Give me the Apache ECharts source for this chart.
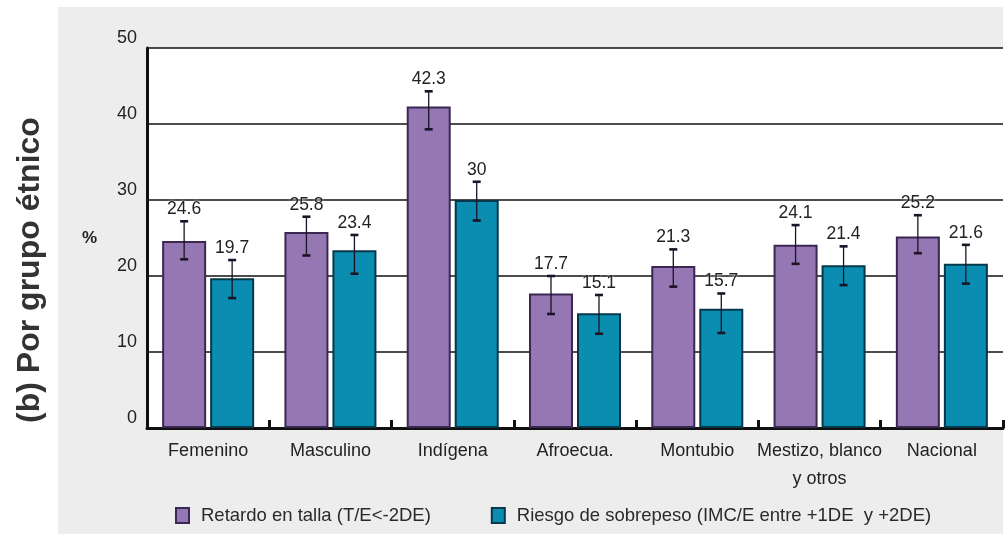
<!DOCTYPE html>
<html>
<head>
<meta charset="utf-8">
<script src="https://cdn.jsdelivr.net/npm/echarts@6/dist/echarts.min.js"></script>
<style>
  html, body { margin: 0; padding: 0; background: #fff; }
  #chart { width: 1005px; height: 534px; }
</style>
</head>
<body>
<div id="chart"></div>
<script>
// categorias y datos (%)
const categorias = ['Femenino', 'Masculino', 'Indígena', 'Afroecua.', 'Montubio', 'Mestizo, blanco\ny otros', 'Nacional'];
const retardo = [24.6, 25.8, 42.3, 17.7, 21.3, 24.1, 25.2];
const retardoBajo = [22.2, 22.7, 39.3, 15.0, 18.6, 21.6, 23.0];
const retardoAlto = [27.2, 27.8, 44.3, 20.0, 23.5, 26.7, 28.0];
const sobrepeso = [19.7, 23.4, 30, 15.1, 15.7, 21.4, 21.6];
const sobrepesoBajo = [17.1, 20.3, 27.3, 12.4, 12.5, 18.8, 19.0];
const sobrepesoAlto = [22.1, 25.4, 32.4, 17.5, 17.7, 23.9, 24.1];
const nombres = ['Retardo en talla (T/E<-2DE)', 'Riesgo de sobrepeso (IMC/E entre +1DE  y +2DE)'];
const yTicks = [0, 10, 20, 30, 40, 50];

const FONT = "'Liberation Sans Narrow', 'Liberation Sans', Arial, sans-serif";
const BAR_W = 44;
const GAP = 4;

const chart = echarts.init(document.getElementById('chart'));

// barra de error + etiqueta del valor
function errorSeries(name, bajo, alto, valores, lado) {
  return {
    type: 'custom',
    name: name + ' err',
    z: 5,
    data: bajo.map((b, i) => [i, b, alto[i], valores[i]]),
    renderItem(params, api) {
      const i = api.value(0);
      const lo = api.coord([i, api.value(1)]);
      const hi = api.coord([i, api.value(2)]);
      const x = lo[0] + lado * (BAR_W / 2 + GAP / 2);
      const cap = 4;
      const st = { stroke: '#1c1426', lineWidth: 1.3 };
      const capSt = { stroke: '#1c1426', lineWidth: 2.6 };
      return {
        type: 'group',
        children: [
          { type: 'line', shape: { x1: x, y1: lo[1], x2: x, y2: hi[1] }, style: st },
          { type: 'line', shape: { x1: x - cap, y1: lo[1], x2: x + cap, y2: lo[1] }, style: capSt },
          { type: 'line', shape: { x1: x - cap, y1: hi[1], x2: x + cap, y2: hi[1] }, style: capSt },
          {
            type: 'text',
            x: x,
            y: hi[1] - 3,
            style: {
              text: String(api.value(3)),
              textAlign: 'center',
              textVerticalAlign: 'bottom',
              fontFamily: FONT,
              fontSize: 17.5,
              fill: '#222',
              textShadowColor: '#fff',
              textShadowBlur: 3
            }
          }
        ]
      };
    }
  };
}

const option = {
  animation: false,
  graphic: [
    {
      type: 'rect',
      left: 58, top: 7,
      shape: { width: 945, height: 530 },
      style: { fill: '#ededed' },
      z: -10
    },
    {
      type: 'text',
      x: 30, y: 270,
      rotation: Math.PI / 2,
      style: {
        text: '(b) Por grupo étnico',
        fontFamily: "'Liberation Sans', Arial, sans-serif",
        fontWeight: 'bold',
        fontSize: 32,
        fill: '#333',
        textAlign: 'center',
        textVerticalAlign: 'middle'
      }
    }
  ],
  legend: {
    data: nombres,
    left: 170,
    top: 501,
    icon: 'rect',
    itemWidth: 13,
    itemHeight: 15,
    itemGap: 60,
    textStyle: { fontFamily: FONT, fontSize: 18.5, color: '#2a2a2a', padding: [0, 0, 0, 7] }
  },
  grid: {
    left: 147, right: 2, top: 48, bottom: 106,
    show: true,
    backgroundColor: '#fff',
    borderWidth: 0
  },
  xAxis: {
    type: 'category',
    data: categorias,
    axisLine: { lineStyle: { color: '#111', width: 3 } },
    axisTick: { show: true, inside: true, interval: 0, length: 8, lineStyle: { color: '#111', width: 3 } },
    axisLabel: {
      interval: 0,
      fontFamily: FONT, fontSize: 18, color: '#222', margin: 9, lineHeight: 28
    }
  },
  yAxis: {
    type: 'value',
    min: yTicks[0],
    max: yTicks[yTicks.length - 1],
    interval: 10,
    name: '%',
    nameLocation: 'middle',
    nameRotate: 0,
    nameGap: 50,
    nameTextStyle: { fontFamily: "'Liberation Sans', Arial, sans-serif", fontWeight: 'bold', fontSize: 17, color: '#222' },
    axisLine: { show: true, lineStyle: { color: '#111', width: 3 } },
    axisTick: { show: false },
    axisLabel: {
      fontFamily: FONT, fontSize: 18, color: '#222', margin: 10,
      verticalAlign: 'bottom', padding: [0, 0, 1, 0]
    },
    splitLine: { lineStyle: { color: '#111', width: 1.5 } }
  },
  series: [
    {
      name: nombres[0],
      type: 'bar',
      data: retardo,
      barWidth: BAR_W,
      barGap: (GAP / BAR_W * 100).toFixed(1) + '%',
      itemStyle: { color: '#9477b3', borderColor: '#3a2752', borderWidth: 2 }
    },
    {
      name: nombres[1],
      type: 'bar',
      data: sobrepeso,
      barWidth: BAR_W,
      itemStyle: { color: '#0a8db0', borderColor: '#05384b', borderWidth: 2 }
    },
    errorSeries(nombres[0], retardoBajo, retardoAlto, retardo, -1),
    errorSeries(nombres[1], sobrepesoBajo, sobrepesoAlto, sobrepeso, 1)
  ]
};

chart.setOption(option);
</script>
</body>
</html>
